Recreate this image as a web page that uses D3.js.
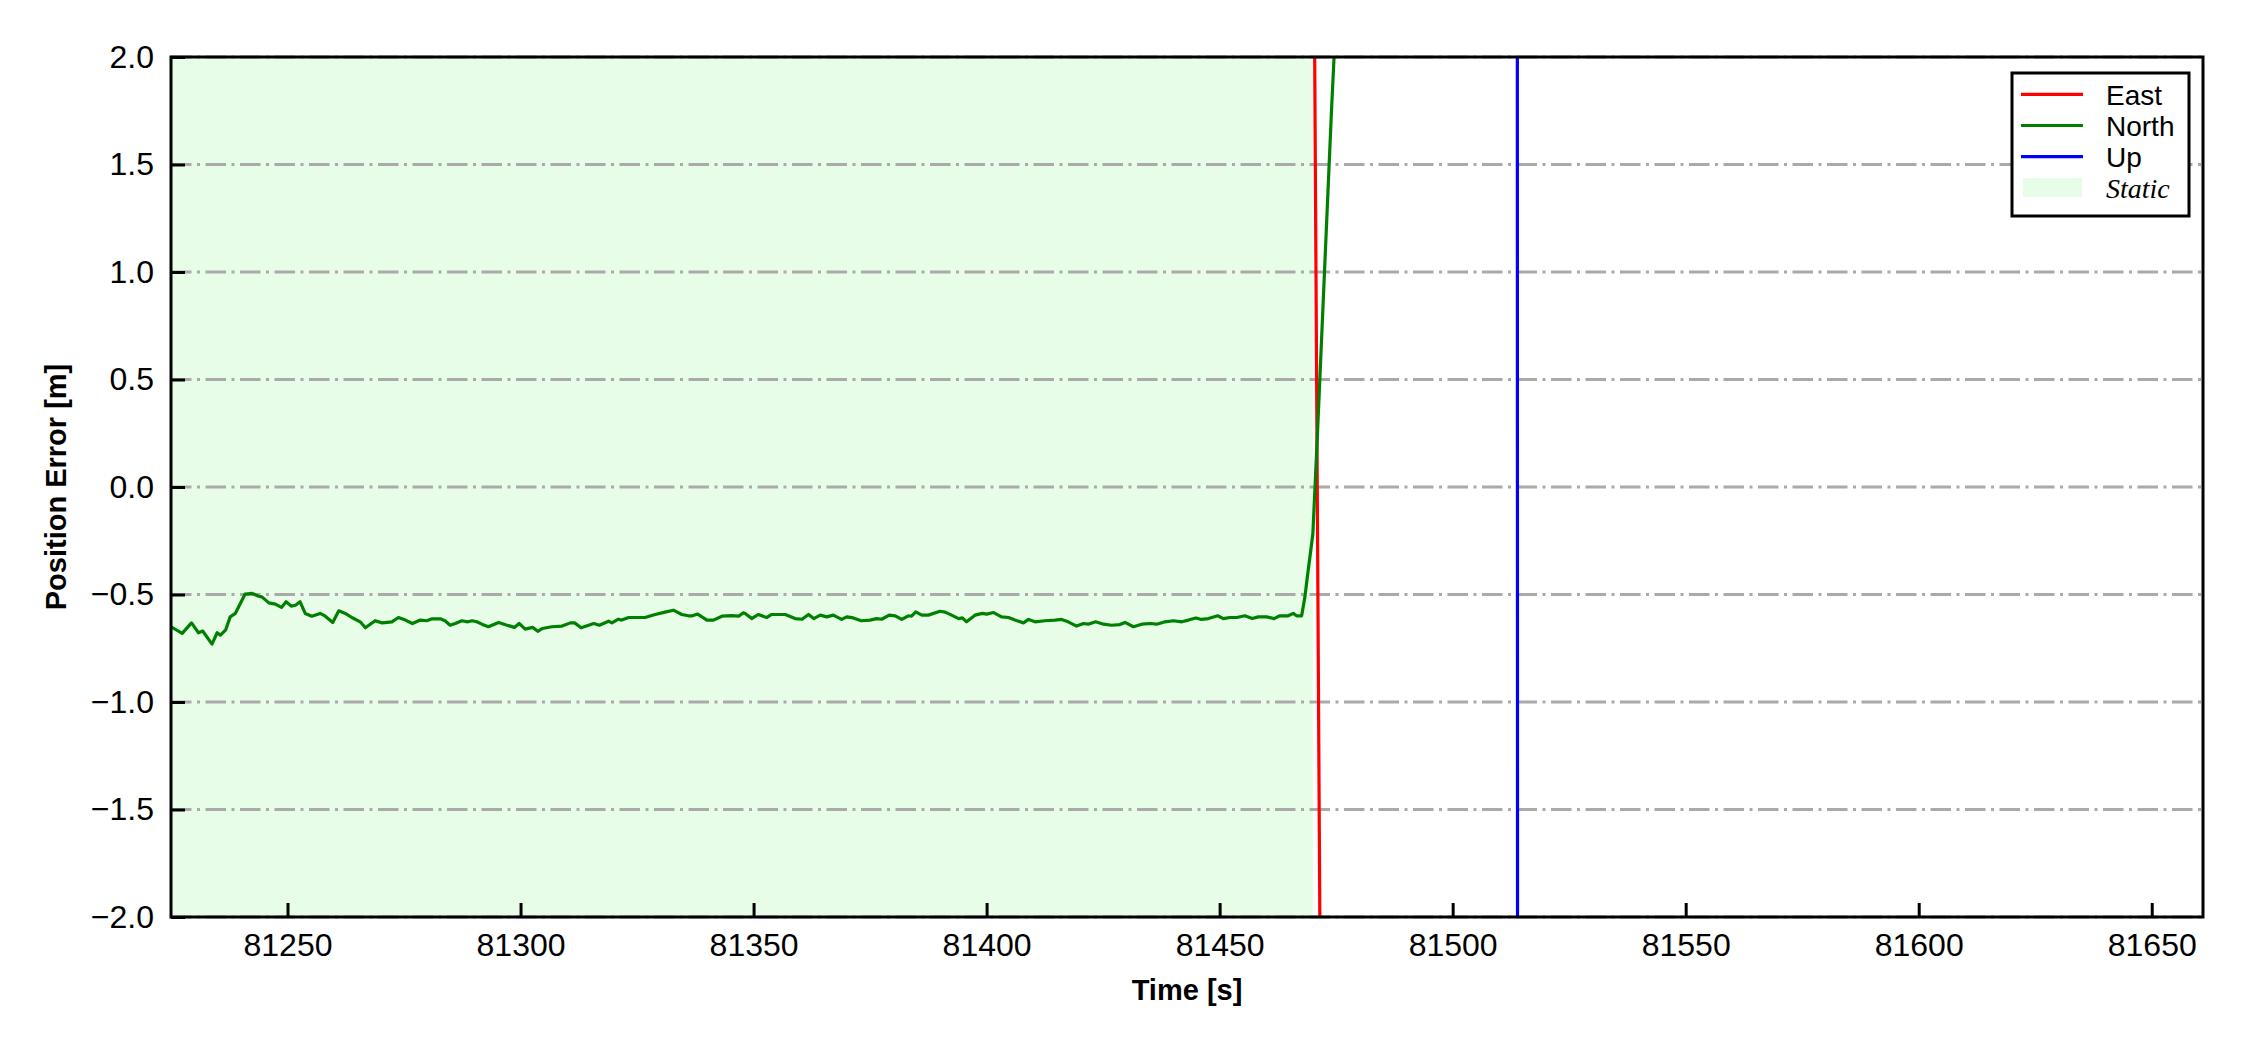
<!DOCTYPE html>
<html>
<head>
<meta charset="utf-8">
<script src="https://cdn.jsdelivr.net/npm/d3@7/dist/d3.min.js"></script>
<style>
  html, body { margin: 0; padding: 0; background: #ffffff; }
  svg { display: block; }
</style>
</head>
<body>
<svg id="chart" width="2250" height="1050"></svg>
<script>
// ---------------- DATA ----------------
const xDomain = [81225, 81661];
const yDomain = [-2.0, 2.0];
const xTickValues = [81250, 81300, 81350, 81400, 81450, 81500, 81550, 81600, 81650];
const yTickValues = [-2.0, -1.5, -1.0, -0.5, 0.0, 0.5, 1.0, 1.5, 2.0];
const staticInterval = [81225, 81470];

const eastTime = [81225, 81300, 81400, 81470, 81472, 81550, 81661];
const eastVal  = [4.5, 4.2, 4.0, 3.45, -3.82, -5.0, -6.0];

const upTime = [81225, 81400, 81513, 81514, 81600, 81661];
const upVal  = [60, 75, 90, -10, -20, -25];

const northTime = [
  81225.0, 81227.4, 81229.4, 81230.9, 81231.8, 81233.8, 81234.9, 81235.6, 81236.7, 81237.7,
  81238.8, 81240.9, 81242.4, 81243.8, 81244.5, 81246.0, 81247.4, 81248.7, 81249.7, 81250.8,
  81251.7, 81252.7, 81253.8, 81255.2, 81257.0, 81258.1, 81259.7, 81261.0, 81262.4, 81263.8,
  81265.6, 81266.7, 81268.8, 81270.3, 81272.4, 81273.8, 81275.3, 81276.8, 81278.5, 81279.9,
  81281.0, 81282.8, 81283.8, 81284.9, 81286.0, 81287.4, 81288.7, 81289.6, 81290.6, 81291.7,
  81293.1, 81295.3, 81297.1, 81298.7, 81299.7, 81301.0, 81302.6, 81303.7, 81304.7, 81306.7,
  81308.9, 81310.7, 81311.6, 81313.0, 81314.6, 81315.7, 81316.9, 81318.9, 81319.6, 81321.0,
  81321.7, 81323.2, 81325.0, 81326.7, 81328.9, 81331.0, 81332.8, 81334.6, 81336.0, 81336.9,
  81338.0, 81340.0, 81341.4, 81343.2, 81345.3, 81346.8, 81347.8, 81348.2, 81349.6, 81351.0,
  81352.8, 81353.9, 81356.8, 81358.9, 81360.4, 81361.8, 81362.9, 81364.3, 81365.7, 81367.1,
  81368.9, 81370.0, 81371.4, 81373.1, 81375.0, 81376.4, 81377.5, 81379.1, 81380.4, 81381.8,
  81383.2, 81383.9, 81384.8, 81386.1, 81387.5, 81390.0, 81391.1, 81392.5, 81394.0, 81394.8,
  81395.7, 81397.5, 81399.1, 81400.0, 81401.5, 81403.2, 81404.7, 81406.1, 81407.9, 81409.0,
  81410.4, 81412.5, 81414.7, 81416.1, 81417.5, 81419.3, 81420.8, 81421.8, 81423.4, 81425.1,
  81426.8, 81428.6, 81429.7, 81431.5, 81433.3, 81435.1, 81436.5, 81438.3, 81440.1, 81441.9,
  81443.3, 81444.9, 81446.1, 81447.6, 81449.6, 81450.8, 81452.2, 81453.7, 81455.4, 81457.0,
  81458.3, 81460.1, 81461.7, 81462.9, 81464.7, 81465.8, 81466.5, 81467.6, 81468.3, 81469.0,
  81470.0, 81471.0, 81472.0, 81473.0, 81474.0, 81475.0, 81480.0, 81661.0
];
const northVal = [
  -0.650, -0.681, -0.632, -0.678, -0.670, -0.731, -0.678, -0.689, -0.666, -0.604,
  -0.588, -0.498, -0.495, -0.508, -0.511, -0.539, -0.545, -0.560, -0.534, -0.554,
  -0.550, -0.534, -0.588, -0.601, -0.588, -0.601, -0.630, -0.576, -0.588, -0.607,
  -0.627, -0.655, -0.622, -0.632, -0.627, -0.607, -0.619, -0.635, -0.619, -0.622,
  -0.613, -0.613, -0.622, -0.643, -0.635, -0.622, -0.627, -0.622, -0.627, -0.638,
  -0.650, -0.630, -0.643, -0.653, -0.635, -0.661, -0.653, -0.671, -0.658, -0.650,
  -0.647, -0.632, -0.632, -0.655, -0.643, -0.635, -0.643, -0.624, -0.632, -0.615,
  -0.619, -0.607, -0.607, -0.607, -0.593, -0.582, -0.573, -0.593, -0.599, -0.599,
  -0.591, -0.619, -0.619, -0.601, -0.598, -0.601, -0.585, -0.588, -0.612, -0.593,
  -0.607, -0.593, -0.593, -0.612, -0.615, -0.593, -0.612, -0.596, -0.604, -0.596,
  -0.616, -0.604, -0.609, -0.622, -0.619, -0.612, -0.615, -0.596, -0.599, -0.616,
  -0.599, -0.601, -0.581, -0.596, -0.596, -0.578, -0.582, -0.596, -0.612, -0.609,
  -0.627, -0.596, -0.588, -0.591, -0.584, -0.604, -0.607, -0.619, -0.632, -0.616,
  -0.627, -0.622, -0.619, -0.616, -0.627, -0.647, -0.635, -0.638, -0.627, -0.638,
  -0.643, -0.640, -0.630, -0.650, -0.638, -0.635, -0.638, -0.627, -0.622, -0.627,
  -0.619, -0.609, -0.616, -0.612, -0.599, -0.612, -0.607, -0.607, -0.599, -0.612,
  -0.604, -0.604, -0.612, -0.599, -0.599, -0.588, -0.599, -0.599, -0.511, -0.387,
  -0.220, 0.250, 0.750, 1.250, 1.750, 2.200, 3.500, 6.000
];

const seriesNames = ["East", "North", "Up"];
const seriesColors = ["#ff0000", "#008000", "#0000ff"];
const staticLabel = "Static";
const xLabel = "Time [s]";
const yLabel = "Position Error [m]";

// ---------------- LAYOUT ----------------
const margin = { left: 171, right: 2203, top: 57, bottom: 917 };
const svg = d3.select("#chart");

const x = d3.scaleLinear().domain(xDomain).range([margin.left, margin.right]);
const y = d3.scaleLinear().domain(yDomain).range([margin.bottom, margin.top]);

const fontSans = "Arial, 'Liberation Sans', Helvetica, sans-serif";
const fontSerif = "'Times New Roman', 'Liberation Serif', Times, serif";

svg.append("defs").append("clipPath").attr("id", "plotClip")
  .append("rect")
  .attr("x", margin.left).attr("y", margin.top)
  .attr("width", margin.right - margin.left)
  .attr("height", margin.bottom - margin.top);

// Static shaded region
svg.append("rect")
  .attr("x", x(staticInterval[0]))
  .attr("y", margin.top)
  .attr("width", x(staticInterval[1]) - x(staticInterval[0]))
  .attr("height", margin.bottom - margin.top)
  .attr("fill", "#e8fde8");

// Horizontal grid (dash-dot)
svg.append("g")
  .selectAll("line")
  .data(yTickValues)
  .join("line")
  .attr("x1", margin.left).attr("x2", margin.right)
  .attr("y1", d => y(d)).attr("y2", d => y(d))
  .attr("stroke", "#aaaaaa")
  .attr("stroke-width", 3)
  .attr("stroke-dasharray", "20.5,5.5,3,5.5");

// Lines
const lineGen = d3.line().x(d => x(d[0])).y(d => y(d[1]));
const seriesData = [
  d3.zip(eastTime, eastVal),
  d3.zip(northTime, northVal),
  d3.zip(upTime, upVal)
];
const linesG = svg.append("g").attr("clip-path", "url(#plotClip)");
seriesData.forEach((data, i) => {
  linesG.append("path")
    .datum(data)
    .attr("d", lineGen)
    .attr("fill", "none")
    .attr("stroke", seriesColors[i])
    .attr("stroke-width", 3.2)
    .attr("stroke-linejoin", "round");
});

// Axes (ticks inward)
const fmtY = v => d3.format(".1f")(v).replace("-", "\u2212");
const xAxis = d3.axisBottom(x).tickValues(xTickValues).tickSizeInner(-14).tickSizeOuter(0)
  .tickPadding(16).tickFormat(d3.format("d"));
const yAxis = d3.axisLeft(y).tickValues(yTickValues).tickSizeInner(-14).tickSizeOuter(0)
  .tickPadding(17).tickFormat(fmtY);

const gx = svg.append("g").attr("transform", `translate(0,${margin.bottom})`).call(xAxis);
const gy = svg.append("g").attr("transform", `translate(${margin.left},0)`).call(yAxis);
[gx, gy].forEach(g => {
  g.select(".domain").remove();
  g.selectAll(".tick line").attr("stroke", "#000").attr("stroke-width", 3);
  g.selectAll(".tick text").attr("fill", "#000")
    .style("font-family", fontSans).style("font-size", "32px");
});
gx.selectAll(".tick text").attr("dy", "0.71em");

// Frame
svg.append("rect")
  .attr("x", margin.left).attr("y", margin.top)
  .attr("width", margin.right - margin.left)
  .attr("height", margin.bottom - margin.top)
  .attr("fill", "none").attr("stroke", "#000").attr("stroke-width", 3);

// Axis labels
svg.append("text")
  .attr("x", (margin.left + margin.right) / 2).attr("y", 1000)
  .attr("text-anchor", "middle")
  .style("font-family", fontSans).style("font-size", "29px").style("font-weight", "bold")
  .text(xLabel);
svg.append("text")
  .attr("transform", `translate(66,${(margin.top + margin.bottom) / 2}) rotate(-90)`)
  .attr("text-anchor", "middle")
  .style("font-family", fontSans).style("font-size", "29px").style("font-weight", "bold")
  .text(yLabel);

// Legend
const leg = svg.append("g");
leg.append("rect")
  .attr("x", 2012).attr("y", 73).attr("width", 177).attr("height", 143)
  .attr("fill", "#fff").attr("stroke", "#000").attr("stroke-width", 3);
const rowY = [94.3, 125.5, 156.7, 187.4];
seriesNames.forEach((name, i) => {
  leg.append("line")
    .attr("x1", 2021).attr("x2", 2083)
    .attr("y1", rowY[i]).attr("y2", rowY[i])
    .attr("stroke", seriesColors[i]).attr("stroke-width", 3.2);
  leg.append("text")
    .attr("x", 2106).attr("y", rowY[i] + 10.7)
    .style("font-family", fontSans).style("font-size", "28px")
    .text(name);
});
leg.append("rect")
  .attr("x", 2023).attr("y", 178).attr("width", 59).attr("height", 19)
  .attr("fill", "#e8fde8");
leg.append("text")
  .attr("x", 2106).attr("y", rowY[3] + 10.9)
  .style("font-family", fontSerif).style("font-size", "28px").style("font-style", "italic")
  .text(staticLabel);
</script>
</body>
</html>
